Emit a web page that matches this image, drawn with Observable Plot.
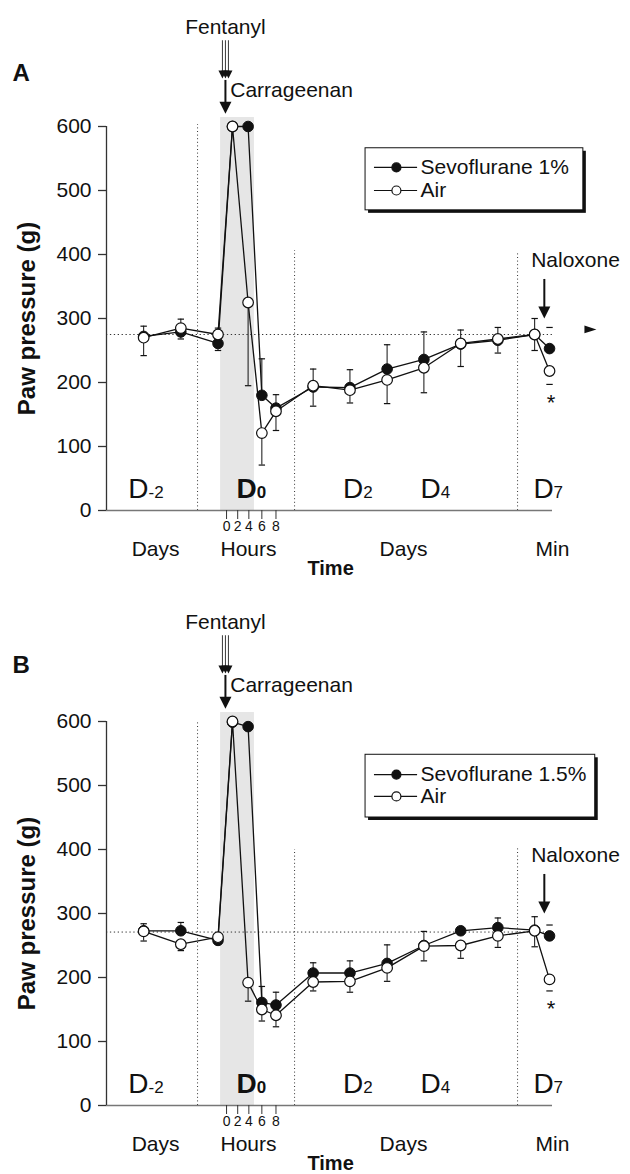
<!DOCTYPE html>
<html><head><meta charset="utf-8">
<script src="https://cdn.jsdelivr.net/npm/d3@7"></script>
<script src="https://cdn.jsdelivr.net/npm/@observablehq/plot@0.6"></script>
<style>
html,body{margin:0;padding:0;background:#fff;overflow:hidden}
svg{display:block}
</style>
</head><body><div id="chart"></div>
<script>
// ---- time points (broken time axis: days, hours on D0, days, minutes after naloxone) ----
const timeLabels = ["D-2","D-1","D0","H1","H4","H6","H8","D1","D2","D3","D4","D5","D6","D7","Nal"];
const timePos    = [1, 2, 3, 3.39, 3.81, 4.18, 4.56, 5.56, 6.55, 7.55, 8.54, 9.53, 10.53, 11.52, 11.92];

// ---- Panel A: Sevoflurane 1% vs Air ----
const sevoA    = [272, 279, 261, 600, 600, 180, 160, 193, 192, 221, 236, 260, 266, 275, 253];
const airA     = [270, 285, 275, 600, 325, 121, 155, 195, 188, 204, 223, 261, 268, 275, 218];
const sevoErrA = [16, 11, 11, 0, 0, 57, 21, 30, 28, 38, 43, 35, 20, 25, 33];
const airErrA  = [28, 14, 10, 0, 130, 50, 30, 26, 20, 37, 39, 21, 18, 25, 21];
const baselineA = 275;

// ---- Panel B: Sevoflurane 1.5% vs Air ----
const sevoB    = [273, 273, 258, 599, 592, 161, 157, 207, 207, 222, 250, 273, 278, 274, 265];
const airB     = [272, 252, 263, 600, 192, 150, 141, 193, 194, 215, 249, 250, 265, 273, 197];
const sevoErrB = [11, 13, 5, 0, 0, 25, 20, 16, 19, 29, 22, 4, 15, 21, 17];
const airErrB  = [15, 10, 5, 0, 29, 18, 18, 14, 17, 21, 23, 20, 18, 25, 18];
const baselineB = 271;

// ---- axis ticks ----
const yTicks = [0, 100, 200, 300, 400, 500, 600];
const hourTicks = ["0", "2", "4", "6", "8"];
const hourTickPos = [3.23, 3.53, 3.83, 4.18, 4.56];
const dayMain = ["D", "D", "D", "D", "D"];
const daySub = ["-2", "0", "2", "4", "7"];
const dayBold = [false, true, false, false, false];
const periodLabels = ["Days", "Hours", "Days", "Min"];
const seriesLabelsA = ["Sevoflurane 1%", "Air"];
const seriesLabelsB = ["Sevoflurane 1.5%", "Air"];

const FONT = '"Liberation Sans", Arial, Helvetica, sans-serif';
const INK = "#111";

const capSymbol = {draw(ctx, size){ const r = Math.sqrt(size/Math.PI); ctx.moveTo(-r,0); ctx.lineTo(r,0); }};
const triDown = {draw(ctx, size){ const r = Math.sqrt(size/Math.PI); ctx.moveTo(-r,-2*r); ctx.lineTo(r,-2*r); ctx.lineTo(0,0); ctx.closePath(); }};
const triRight = {draw(ctx, size){ const r = Math.sqrt(size/Math.PI); ctx.moveTo(-r,-0.65*r); ctx.lineTo(r,0); ctx.lineTo(-r,0.65*r); ctx.closePath(); }};

function panel(p) {
  const rows = timeLabels.map((t, i) => ({t, pos: timePos[i], sevo: p.sevo[i], air: p.air[i], se: p.sevoErr[i], ae: p.airErr[i]}));
  const err = [];
  rows.forEach(r => {
    const sevoUp = r.sevo >= r.air;
    if (r.se > 0) err.push({t: r.t, pos: r.pos, y1: r.sevo, y2: r.sevo + (sevoUp ? 1 : -1) * r.se});
    if (r.ae > 0) err.push({t: r.t, pos: r.pos, y1: r.air, y2: r.air + (sevoUp ? -1 : 1) * r.ae});
  });
  const hourMap = new Map(hourTickPos.map((d, i) => [d, hourTicks[i]]));
  const dayPos = [1.13, 4.04, 6.91, 8.99, 12.03];
  const dayRows = dayMain.map((d, i) => ({main: d, sub: daySub[i], pos: dayPos[i], bold: dayBold[i]}));
  const periodRows = periodLabels.map((l, i) => ({l, pos: [1.32, 3.82, 7.99, 12.0][i]}));
  const lg = p.legend;
  const legendRows = [
    {t: p.labels[0], y: lg.r1, fill: INK},
    {t: p.labels[1], y: lg.r2, fill: "white"}
  ];
  const marks = [
    Plot.rect([{x1: 3.07, x2: 3.98, y1: 0, y2: 614}], {x1: "x1", x2: "x2", y1: "y1", y2: "y2", fill: "#e6e6e6"}),
    Plot.ruleX([{x: 2.45, b: 0, t: p.sep[0]}, {x: 5.06, b: 0, t: p.sep[1]}, {x: 11.06, b: 0, t: p.sep[2]}],
      {x: "x", y1: "b", y2: "t", stroke: "#333", strokeWidth: 1, strokeDasharray: "1,2.6"}),
    Plot.ruleY([{y: p.baseline, x1: 0, x2: 12.05}], {y: "y", x1: "x1", x2: "x2", stroke: "#333", strokeWidth: 1, strokeDasharray: "1.3,2.6"}),
    Plot.ruleY([{y: 0, x1: 0, x2: 12}], {y: "y", x1: "x1", x2: "x2", stroke: "#777", strokeWidth: 1.6}),
    Plot.ruleX([{x: 0, y1: 0, y2: 600}], {x: "x", y1: "y1", y2: "y2", stroke: "#333", strokeWidth: 1.3}),
    Plot.axisY({ticks: yTicks, tickSize: 8, tickPadding: 7, label: null, stroke: "#333", strokeWidth: 1.3, fontSize: 21, fill: INK}),
    Plot.axisX({ticks: hourTickPos, tickFormat: d => hourMap.get(d), tickSize: 9, tickPadding: 2, fontSize: 14, label: null, stroke: "#333", fill: INK}),
    Plot.ruleX(err.filter(e => e.t !== "Nal"), {x: "pos", y1: "y1", y2: "y2", stroke: INK, strokeWidth: 1}),
    Plot.dot(err, {x: "pos", y: "y2", symbol: capSymbol, r: 3.2, stroke: INK, strokeWidth: 1.2, fill: "none"}),
    Plot.line(rows, {x: "pos", y: "sevo", stroke: INK, strokeWidth: 1.3}),
    Plot.line(rows, {x: "pos", y: "air", stroke: INK, strokeWidth: 1.3}),
    Plot.dot(rows, {x: "pos", y: "sevo", r: 5.3, fill: INK, stroke: INK, strokeWidth: 1}),
    Plot.dot(rows, {x: "pos", y: "air", r: 5.3, fill: "white", stroke: INK, strokeWidth: 1.2}),
    Plot.text([{x: 11.96, y: p.star, t: "*"}], {x: "x", y: "y", text: "t", fontSize: 22, fill: INK}),
    Plot.text(dayRows.filter(d => !d.bold), {x: "pos", y: 33, text: "main", textAnchor: "end", fontSize: 28, fill: INK}),
    Plot.text(dayRows.filter(d => d.bold), {x: "pos", y: 33, text: "main", textAnchor: "end", fontSize: 28, fontWeight: "bold", fill: INK}),
    Plot.text(dayRows.filter(d => !d.bold), {x: "pos", y: 28, text: "sub", textAnchor: "start", fontSize: 17, fill: INK}),
    Plot.text(dayRows.filter(d => d.bold), {x: "pos", y: 28, text: "sub", textAnchor: "start", fontSize: 17, fontWeight: "bold", fill: INK}),
    Plot.text(periodRows, {x: "pos", y: -61, text: "l", fontSize: 21, fill: INK}),
    Plot.text([{x: 6.03, y: -91, t: "Time"}], {x: "x", y: "y", text: "t", fontSize: 20, fontWeight: "bold", fill: INK}),
    Plot.text([{x: -2.12, y: 300, t: "Paw pressure (g)"}], {x: "x", y: "y", text: "t", rotate: -90, fontSize: 24, fontWeight: "bold", fill: INK}),
    Plot.text([{x: -2.53, y: p.letterY, t: p.letter}], {x: "x", y: "y", text: "t", textAnchor: "start", fontSize: 24, fontWeight: "bold", fill: INK}),
    Plot.text([{x: 3.2, y: 755, t: "Fentanyl"}], {x: "x", y: "y", text: "t", fontSize: 21, fill: INK}),
    ...[-3, 0, 3].map(dx => Plot.ruleX([{x: 3.2, y1: 686, y2: 734}], {x: "x", y1: "y1", y2: "y2", dx, stroke: "#222", strokeWidth: 0.9})),
    ...[-3, 0, 3].map(dx => Plot.dot([{x: 3.2, y: 675}], {x: "x", y: "y", dx, symbol: triDown, r: 4, fill: INK})),
    Plot.ruleX([{x: 3.2, y1: 636, y2: 672}], {x: "x", y1: "y1", y2: "y2", stroke: INK, strokeWidth: 2}),
    Plot.dot([{x: 3.2, y: 620}], {x: "x", y: "y", symbol: triDown, r: 6, fill: INK}),
    Plot.text([{x: 3.33, y: 656, t: "Carrageenan"}], {x: "x", y: "y", text: "t", textAnchor: "start", fontSize: 21, fill: INK}),
    Plot.text([{x: 12.62, y: 391, t: "Naloxone"}], {x: "x", y: "y", text: "t", fontSize: 21, fill: INK}),
    Plot.ruleX([{x: 11.78, y1: 316, y2: 361}], {x: "x", y1: "y1", y2: "y2", stroke: INK, strokeWidth: 2}),
    Plot.dot([{x: 11.78, y: 300}], {x: "x", y: "y", symbol: triDown, r: 6, fill: INK}),
    Plot.rect([{x1: lg.x1, x2: lg.x2, y1: lg.y1, y2: lg.y2}], {x1: "x1", x2: "x2", y1: "y1", y2: "y2", dx: 3, dy: 3, fill: INK}),
    Plot.rect([{x1: lg.x1, x2: lg.x2, y1: lg.y1, y2: lg.y2}], {x1: "x1", x2: "x2", y1: "y1", y2: "y2", fill: "white", stroke: INK, strokeWidth: 1}),
    Plot.ruleY(legendRows, {y: "y", x1: 7.21, x2: 8.37, stroke: INK, strokeWidth: 1.2}),
    Plot.dot(legendRows, {x: 7.8, y: "y", r: 4.5, fill: "fill", stroke: INK, strokeWidth: 1.2}),
    Plot.text(legendRows, {x: 8.45, y: "y", text: "t", textAnchor: "start", fontSize: 21, fill: INK})
  ];
  if (p.arrowRight) marks.push(Plot.dot([{x: 13.02, y: 283}], {x: "x", y: "y", symbol: triRight, r: 6, fill: INK}));
  return Plot.plot({
    width: 630, height: p.height,
    marginLeft: 106, marginRight: 78, marginTop: 126, marginBottom: p.height - 510,
    x: {domain: [0, 12], axis: null},
    y: {domain: [0, 600], axis: null},
    style: {fontFamily: FONT, fontSize: "21px", color: INK, background: "white", overflow: "visible"},
    marks
  });
}

const el = document.getElementById("chart");
el.appendChild(panel({height: 595, letter: "A", letterY: 683, sevo: sevoA, air: airA, sevoErr: sevoErrA, airErr: airErrA,
  baseline: baselineA, sep: [603, 406, 401], star: 168, labels: seriesLabelsA, arrowRight: true,
  legend: {x1: 6.97, x2: 12.83, y1: 469, y2: 566, r1: 536, r2: 500}}));
el.appendChild(panel({height: 579, letter: "B", letterY: 688, sevo: sevoB, air: airB, sevoErr: sevoErrB, airErr: airErrB,
  baseline: baselineB, sep: [601, 400, 402], star: 151, labels: seriesLabelsB, arrowRight: false,
  legend: {x1: 6.97, x2: 13.15, y1: 450, y2: 548, r1: 517, r2: 483}}));
</script>
</body></html>
